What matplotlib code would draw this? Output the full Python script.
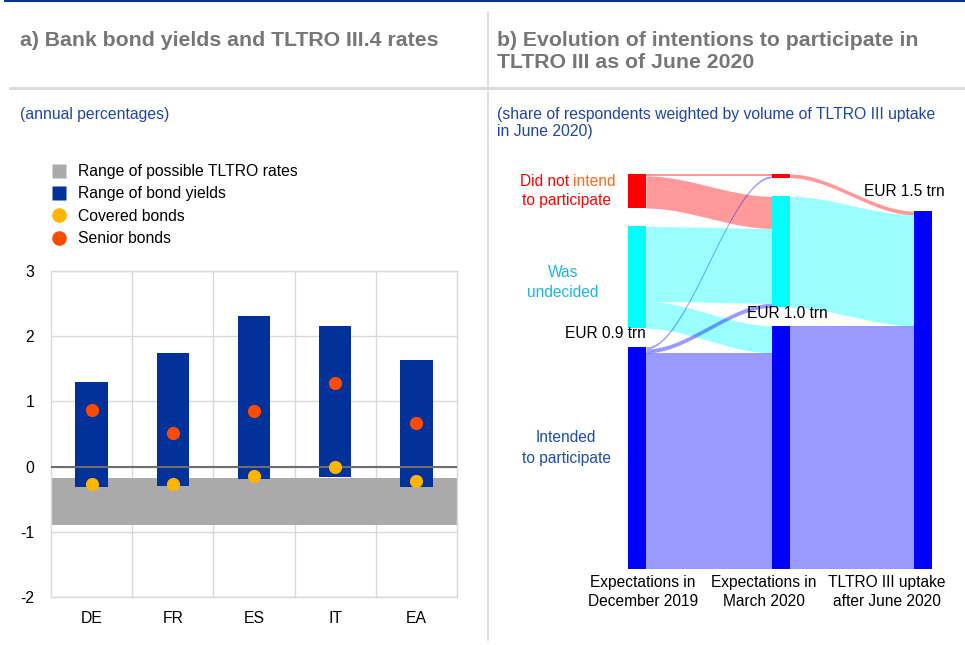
import numpy as np
import matplotlib
matplotlib.use("Agg")
import matplotlib.pyplot as plt
from matplotlib.lines import Line2D

plt.rcParams['font.family'] = ['Liberation Sans', 'DejaVu Sans']
plt.rcParams['axes.unicode_minus'] = False

# ---------------- Panel a data ----------------
countries = ["DE", "FR", "ES", "IT", "EA"]
bond_low = [-0.32, -0.29, -0.19, -0.16, -0.31]
bond_high = [1.29, 1.75, 2.31, 2.16, 1.63]
covered = [-0.27, -0.26, -0.14, 0.00, -0.22]
senior = [0.87, 0.52, 0.86, 1.28, 0.67]
tltro_range = [-0.90, -0.17]
legend_labels = ["Range of possible TLTRO rates", "Range of bond yields",
                 "Covered bonds", "Senior bonds"]

# ---------------- Panel b data (EUR trn) ----------------
stages = ["Expectations in\nDecember 2019", "Expectations in\nMarch 2020",
          "TLTRO III uptake\nafter June 2020"]
groups = ["Did not intend", "Was undecided", "Intended"]
# flows Dec 2019 -> Mar 2020 (source, target, value)
flows_dec_mar = [
    ("Did not intend", "Did not intend", 0.008),
    ("Did not intend", "Was undecided", 0.134),
    ("Was undecided", "Was undecided", 0.313),
    ("Was undecided", "Intended", 0.113),
    ("Intended", "Did not intend", 0.008),
    ("Intended", "Was undecided", 0.017),
    ("Intended", "Intended", 0.903),
]
# flows Mar 2020 -> uptake after June 2020
flows_mar_jun = [
    ("Did not intend", "Intended", 0.016),
    ("Was undecided", "Intended", 0.464),
    ("Intended", "Intended", 1.016),
]

W, H = 965, 645
fig = plt.figure(figsize=(W / 100, H / 100), dpi=100)

def fx(px):
    return px / W

def fy(py):
    return 1 - py / H

# ---------- header decorations ----------
fig.add_artist(Line2D([fx(5), 1], [fy(1.2), fy(1.2)], color="#003299", lw=1.5))
fig.add_artist(Line2D([fx(488), fx(488)], [fy(12), fy(640)], color="#D9D9D9", lw=1.2))
fig.add_artist(Line2D([fx(10), 1], [fy(88), fy(88)], color="#D9D9D9", lw=2))

title_col = "#767676"
fig.text(fx(20), fy(40), "a) Bank bond yields and TLTRO III.4 rates", fontsize=15.3,
         fontweight="bold", color=title_col, va="center", ha="left")
fig.text(fx(497), fy(51.5), "b) Evolution of intentions to participate in\nTLTRO III as of June 2020",
         fontsize=15.3, fontweight="bold", color=title_col, va="center", ha="left",
         linespacing=1.2)
sub_col = "#1F44A8"
fig.text(fx(20), fy(114), "(annual percentages)", fontsize=11.3, color=sub_col, va="center")
fig.text(fx(497), fy(123), "(share of respondents weighted by volume of TLTRO III uptake\nin June 2020)",
         fontsize=11.3, color=sub_col, va="center", linespacing=1.15)

# ---------------- Panel a ----------------
axa = fig.add_axes([fx(51), fy(597), fx(457) - fx(51), fy(271) - fy(597)])
x = np.arange(len(countries))
grey = "#AAAAAA"
bar_col = "#003299"
cov_col = "#FFB400"
sen_col = "#FF4B00"

axa.axhspan(tltro_range[0], tltro_range[1], color=grey, zorder=1, lw=0)
heights = np.array(bond_high) - np.array(bond_low)
axa.bar(x, heights, bottom=bond_low, width=0.4, color=bar_col, zorder=2, lw=0)
axa.axhline(0, color="#6E6E6E", lw=1.5, zorder=3)
axa.plot(x, covered, "o", color=cov_col, ms=9.5, zorder=4, mec="none")
axa.plot(x, senior, "o", color=sen_col, ms=9.5, zorder=4, mec="none")

axa.set_xlim(-0.5, len(countries) - 0.5)
axa.set_ylim(-2, 3)
axa.set_yticks(np.arange(-2, 4, 1))
axa.set_xticks(x)
axa.set_xticklabels(countries)
axa.set_xticks(np.arange(0.5, len(countries) - 0.5, 1), minor=True)
axa.grid(True, which="minor", axis="x", color="#D9D9D9", lw=1, zorder=0)
axa.grid(True, which="major", axis="y", color="#D9D9D9", lw=1, zorder=0)
axa.set_axisbelow(True)
axa.tick_params(axis="both", which="both", length=0, labelsize=11.3, colors="black")
axa.tick_params(axis="x", pad=10)
axa.tick_params(axis="y", pad=12)
for s in axa.spines.values():
    s.set_color("#D9D9D9")
    s.set_linewidth(1)

handles = [
    Line2D([], [], marker="s", ls="none", color=grey, ms=10, mec="none"),
    Line2D([], [], marker="s", ls="none", color=bar_col, ms=10, mec="none"),
    Line2D([], [], marker="o", ls="none", color=cov_col, ms=10.5, mec="none"),
    Line2D([], [], marker="o", ls="none", color=sen_col, ms=10.5, mec="none"),
]
fig.legend(handles, legend_labels, loc="upper left", bbox_to_anchor=(fx(51), fy(164)),
           frameon=False, fontsize=11.3, handlelength=1.0, handletextpad=0.75,
           labelspacing=0.47, borderaxespad=0, borderpad=0)

# ---------------- Panel b: Sankey ----------------
PX_PER_TRN = 239.3
BOTTOM_PX = 569
ax0_px, ax1_px = 490, 965
ay_top_px, ay_bot_px = 150, 640
axb = fig.add_axes([fx(ax0_px), fy(ay_bot_px), fx(ax1_px) - fx(ax0_px), fy(ay_top_px) - fy(ay_bot_px)])
axb.set_xlim(0, ax1_px - ax0_px)
axb.set_ylim(-(ay_bot_px - BOTTOM_PX) / PX_PER_TRN, (BOTTOM_PX - ay_top_px) / PX_PER_TRN)
axb.axis("off")

gap = 18.5 / PX_PER_TRN
col_x = [138, 282, 424]
node_w = 18
node_colors = {"Did not intend": "#FF0000", "Was undecided": "#00FFFF", "Intended": "#0000FF"}

def node_totals(flows, side):
    tot = {g: 0.0 for g in groups}
    for s, t, v in flows:
        tot[s if side == 0 else t] += v
    return tot

col_totals = [
    node_totals(flows_dec_mar, 0),
    {g: max(node_totals(flows_dec_mar, 1)[g], node_totals(flows_mar_jun, 0)[g]) for g in groups},
    node_totals(flows_mar_jun, 1),
]

# stack nodes from bottom (Intended at bottom)
node_pos = []
for tot in col_totals:
    pos = {}
    y = 0.0
    for g in reversed(groups):
        if tot[g] > 0:
            pos[g] = (y, y + tot[g])
            y += tot[g] + gap
    node_pos.append(pos)

def smooth_band(x0, x1, y0_top, y0_bot, y1_top, y1_bot, color):
    t = np.linspace(0, 1, 100)
    s = t * t * (3 - 2 * t)
    xs = x0 + (x1 - x0) * t
    top = y0_top + (y1_top - y0_top) * s
    bot = y0_bot + (y1_bot - y0_bot) * s
    axb.fill_between(xs, bot, top, color=color, alpha=0.4, lw=0, zorder=1)

def draw_flows(flows, ci):
    src_pos, tgt_pos = node_pos[ci], node_pos[ci + 1]
    out_cursor = {g: src_pos[g][1] for g in src_pos}
    in_cursor = {g: tgt_pos[g][1] for g in tgt_pos}
    x0 = col_x[ci] + node_w
    x1 = col_x[ci + 1]
    for s, t, v in flows:
        yt0 = out_cursor[s]; yb0 = yt0 - v; out_cursor[s] = yb0
        yt1 = in_cursor[t]; yb1 = yt1 - v; in_cursor[t] = yb1
        smooth_band(x0, x1, yt0, yb0, yt1, yb1, node_colors[s])

draw_flows(flows_dec_mar, 0)
draw_flows(flows_mar_jun, 1)

for ci, pos in enumerate(node_pos):
    for g, (y0, y1) in pos.items():
        axb.bar(col_x[ci], y1 - y0, bottom=y0, width=node_w, align="edge",
                color=node_colors[g], lw=0, zorder=3)

fs_b = 11.2
# category labels left of first column
red_pos = node_pos[0]["Did not intend"]
ymid = (red_pos[0] + red_pos[1]) / 2
dy = 9.8 / PX_PER_TRN
axb.text(79, ymid + dy, "Did not", color="#FF0000", fontsize=fs_b, ha="right", va="center")
axb.text(83, ymid + dy, "intend", color="#FF6A1A", fontsize=fs_b, ha="left", va="center")
axb.text(76, ymid - dy, "to participate", color="#FF0000", fontsize=fs_b, ha="center", va="center")
cy = node_pos[0]["Was undecided"]
axb.text(73, (cy[0] + cy[1]) / 2 - 5 / PX_PER_TRN, "Was\nundecided", color="#1EB4E8",
         fontsize=fs_b, ha="center", va="center", linespacing=1.45)
by = node_pos[0]["Intended"]
axb.text(76, (by[0] + by[1]) / 2 + 10 / PX_PER_TRN, "Intended\nto participate", color="#1F4BB0",
         fontsize=fs_b, ha="center", va="center", linespacing=1.45)

# value labels
v1 = col_totals[0]["Intended"]
v2 = col_totals[1]["Intended"]
v3 = col_totals[2]["Intended"]
axb.text(col_x[0] + node_w, node_pos[0]["Intended"][1] + 13 / PX_PER_TRN, f"EUR {v1:.1f} trn",
         fontsize=fs_b, ha="right", va="center")
axb.text(col_x[1] + 15, node_pos[1]["Intended"][1] + 12 / PX_PER_TRN, f"EUR {v2:.1f} trn",
         fontsize=fs_b, ha="center", va="center")
axb.text(col_x[2] + node_w + 13, node_pos[2]["Intended"][1] + 20 / PX_PER_TRN, f"EUR {v3:.1f} trn",
         fontsize=fs_b, ha="right", va="center")

# stage labels
stage_x = [153, 274, 397]
for sx, lab in zip(stage_x, stages):
    axb.text(sx, -23 / PX_PER_TRN, lab, fontsize=fs_b, ha="center", va="center", linespacing=1.25)

fig.savefig("out.png", dpi=100)
